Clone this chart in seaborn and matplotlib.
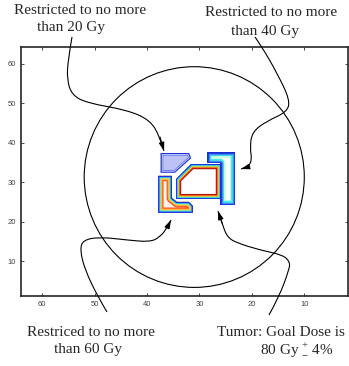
import matplotlib
matplotlib.use("Agg")
import matplotlib.pyplot as plt
import seaborn as sns
from matplotlib.patches import Polygon, Ellipse, PathPatch, FancyArrowPatch
from matplotlib.path import Path

# ── Data ───────────────────────────────────────────────────────────────────────
XTICKS = [60, 50, 40, 30, 20, 10]
YTICKS = [10, 20, 30, 40, 50, 60]

# structure outlines (grid units)
AVOID20_X = [37.4, 32.0, 31.6, 34.7, 37.4]
AVOID20_Y = [37.4, 37.4, 36.1, 32.4, 32.4]
AVOID40_X = [28.6, 23.2, 23.2, 26.1, 26.1, 28.6]
AVOID40_Y = [37.7, 37.7, 24.2, 24.2, 34.9, 34.9]
TUMOR_X = [31.6, 25.9, 25.9, 34.5, 34.5]
TUMOR_Y = [34.6, 34.6, 25.7, 25.7, 30.8]
AVOID60_X = [37.9, 35.25, 35.25, 34.3, 32.0, 31.25, 31.25, 37.9]
AVOID60_Y = [31.6, 31.6, 26.0, 25.0, 25.0, 24.0, 22.2, 22.2]

# body outline
BODY_CENTER = (31.0, 31.3)
BODY_SIZE = (42.0, 56.0)

LABELS = {
    "20": ["Restricted to no more", "than 20 Gy"],
    "40": ["Restricted to no more", "than 40 Gy"],
    "60": ["Restriced to no more", "than 60 Gy"],
    "tumor": ["Tumor: Goal Dose is", "80 Gy $^{+}_{-}$ 4%"],
}

# ── Style ──────────────────────────────────────────────────────────────────────
W, H = 349, 366
sns.set_style("ticks")
plt.rcParams["xtick.direction"] = "in"
plt.rcParams["ytick.direction"] = "in"
plt.rcParams["font.family"] = ["Liberation Sans", "DejaVu Sans"]
plt.rcParams["mathtext.fontset"] = "custom"
plt.rcParams["mathtext.rm"] = "Liberation Serif"
PX = 0.72  # points per pixel at 100 dpi

fig = plt.figure(figsize=(W / 100, H / 100), dpi=100)
ax = fig.add_axes([21 / W, 1 - 296 / H, 327 / W, 249 / H])
ax.set_xlim(64.06, 1.66)
ax.set_ylim(1.12, 64.3)
ax.set_xticks(XTICKS)
ax.set_yticks(YTICKS)
ax.tick_params(axis="both", which="both", direction="in", length=3 * PX,
               width=0.6, labelsize=5.5, labelcolor="#444444", pad=3.5,
               top=True, right=True)
for sp in ax.spines.values():
    sp.set_linewidth(1.2)
    sp.set_visible(True)


def banded(xs, ys, bands, fill="white"):
    xy = list(zip(xs, ys))
    base = Polygon(xy, closed=True, facecolor=fill, edgecolor="none", zorder=3)
    ax.add_patch(base)
    # deepest band first, shallower ones drawn on top
    for depth, color in bands:
        p = Polygon(xy, closed=True, fill=False, edgecolor=color,
                    linewidth=2 * depth * PX, zorder=4, joinstyle="round")
        ax.add_patch(p)
        p.set_clip_path(base)


ax.add_patch(Ellipse(BODY_CENTER, BODY_SIZE[0], BODY_SIZE[1], fill=False,
                     edgecolor="black", linewidth=0.8, zorder=2))

banded(AVOID20_X, AVOID20_Y,
       [(2.6, "#6070ec"), (1.8, "#e4e9ff"), (1.1, "#1f2fd6")], fill="#bcc2f6")
banded(AVOID40_X, AVOID40_Y,
       [(5.6, "#d4ffdc"), (4.2, "#44eaee"), (2.7, "#3a8cf5"), (1.3, "#1c2ad6")])
banded(TUMOR_X, TUMOR_Y,
       [(5.2, "#a81010"), (4.3, "#e83010"), (3.6, "#ff9a20"), (2.9, "#e8e040"),
        (2.3, "#40e090"), (1.7, "#40c8f8"), (1.0, "#2030d8")])
banded(AVOID60_X, AVOID60_Y,
       [(5.4, "#ff4a18"), (4.4, "#ff9a40"), (3.4, "#f8e040"), (2.4, "#40d8f0"),
        (1.3, "#2030d8")], fill="#fff2ea")

# ── Annotation arrows (pixel positions, y from top) ────────────────────────────
ARROWS = [
    [(72, 37), (68, 60), (67, 80), (72, 95), (87, 103), (127, 110), (150, 120),
     (160, 137), (164, 151)],
    [(255, 37), (262, 47), (277, 73), (290, 100), (287, 112), (267, 121),
     (252, 132), (250, 148), (252, 160), (248, 167), (241, 169)],
    [(107, 312), (98, 297), (85, 270), (80, 250), (83, 240), (100, 237),
     (127, 240), (150, 242), (160, 237), (167, 228), (171, 220)],
    [(269, 315), (279, 297), (289, 270), (290, 262), (283, 255), (260, 250),
     (237, 243), (227, 237), (222, 223), (218, 211)],
]


def fxy(p):
    return (p[0] / W, 1 - p[1] / H)


for pts in ARROWS:
    pts = [fxy(p) for p in pts]
    verts = [pts[0]]
    codes = [Path.MOVETO]
    for i in range(1, len(pts) - 2):
        mid = ((pts[i][0] + pts[i + 1][0]) / 2, (pts[i][1] + pts[i + 1][1]) / 2)
        verts += [pts[i], mid]
        codes += [Path.CURVE3, Path.CURVE3]
    verts += [pts[-2], pts[-1]]
    codes += [Path.CURVE3, Path.CURVE3]
    fig.add_artist(PathPatch(Path(verts, codes), fill=False, edgecolor="black",
                             linewidth=0.8, transform=fig.transFigure))
    fig.add_artist(FancyArrowPatch(pts[-2], pts[-1], transform=fig.transFigure,
                                   arrowstyle="-|>,head_length=5,head_width=1.6",
                                   mutation_scale=1, color="black", linewidth=0.8,
                                   shrinkA=0, shrinkB=0))

# ── Labels ─────────────────────────────────────────────────────────────────────
TXT = dict(family="Liberation Serif", fontsize=11, ha="center", va="center")
fig.text(80 / W, 1 - 10 / H, LABELS["20"][0], **TXT)
fig.text(71 / W, 1 - 27 / H, LABELS["20"][1], **TXT)
fig.text(271 / W, 1 - 13 / H, LABELS["40"][0], **TXT)
fig.text(265 / W, 1 - 31 / H, LABELS["40"][1], **TXT)
fig.text(91 / W, 1 - 333 / H, LABELS["60"][0], **TXT)
fig.text(88 / W, 1 - 350 / H, LABELS["60"][1], **TXT)
fig.text(281 / W, 1 - 333 / H, LABELS["tumor"][0], **TXT)
fig.text(297 / W, 1 - 350 / H, LABELS["tumor"][1], **TXT)

fig.savefig("out.png", dpi=100)
